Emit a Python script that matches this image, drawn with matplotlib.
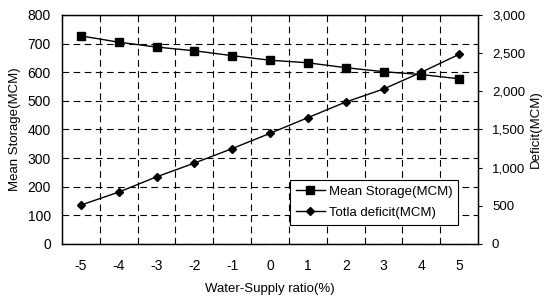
import numpy as np
import matplotlib
matplotlib.use("Agg")
import matplotlib.pyplot as plt
from matplotlib.ticker import FuncFormatter, FixedLocator


ratio = [-5, -4, -3, -2, -1, 0, 1, 2, 3, 4, 5]
storage = [727, 705, 688, 675, 658, 642, 633, 616, 602, 592, 577]
deficit = [510, 680, 880, 1060, 1250, 1450, 1655, 1860, 2030, 2250, 2485]

left_ticks = [0, 100, 200, 300, 400, 500, 600, 700, 800]
right_ticks = [0, 500, 1000, 1500, 2000, 2500, 3000]


def Graficar():

    plt.rcParams['font.family'] = ['Liberation Sans', 'DejaVu Sans']
    plt.rcParams['font.size'] = 10

    fig = plt.figure(figsize=(5.46, 3.0), dpi=100)
    ax = fig.add_axes([0.1136, 0.1867, 0.762, 0.7633])
    ax2 = ax.twinx()

    x = np.arange(len(ratio))
    l1, = ax.plot(x, storage, color='black', lw=1.0, marker='s', ms=6,
                  label='Mean Storage(MCM)')
    l2, = ax2.plot(x, deficit, color='black', lw=1.0, marker='D', ms=4.5,
                   label='Totla deficit(MCM)')

    ax.set_xlim(-0.5, len(ratio) - 0.5)
    ax.set_ylim(0, 800)
    ax2.set_ylim(0, 3000)

    ax.set_xticks(x)
    ax.set_xticklabels([str(r) for r in ratio])
    ax.xaxis.set_minor_locator(FixedLocator(np.arange(0.5, len(ratio) - 1, 1.0)))
    ax.tick_params(axis='x', which='major', length=0, pad=11)
    ax.tick_params(axis='x', which='minor', length=3, direction='in')
    ax.set_yticks(left_ticks)
    ax.tick_params(axis='y', length=0, pad=8)

    ax2.set_yticks(right_ticks)
    ax2.yaxis.set_major_formatter(FuncFormatter(lambda v, p: '{:,.0f}'.format(v)))
    ax2.tick_params(axis='y', length=3, direction='out', pad=7, labelsize=9.5)

    ax.grid(True, axis='y', which='major', color='black', ls=(0, (6, 4)), lw=0.8)
    ax.grid(True, axis='x', which='minor', color='black', ls=(0, (6, 4)), lw=0.8)

    for s in ax.spines.values():
        s.set_linewidth(1.0)

    ax.set_xlabel('Water-Supply ratio(%)', fontsize=9.5, labelpad=7)
    ax.set_ylabel('Mean Storage(MCM)', fontsize=9.5, labelpad=5)
    ax2.set_ylabel('Deficit(MCM)', fontsize=9.5, labelpad=3)

    leg = ax2.legend(handles=[l1, l2], loc='lower right', fontsize=9.5,
                     bbox_to_anchor=(0.968, 0.055), frameon=True, fancybox=False,
                     edgecolor='black', framealpha=1.0, handlelength=2.2,
                     handletextpad=0.3, borderpad=0.45, labelspacing=0.65)
    leg.get_frame().set_linewidth(0.8)

    fig.savefig('out.png', dpi=100)


def main():
    Graficar()


if __name__ == "__main__":
    main()
